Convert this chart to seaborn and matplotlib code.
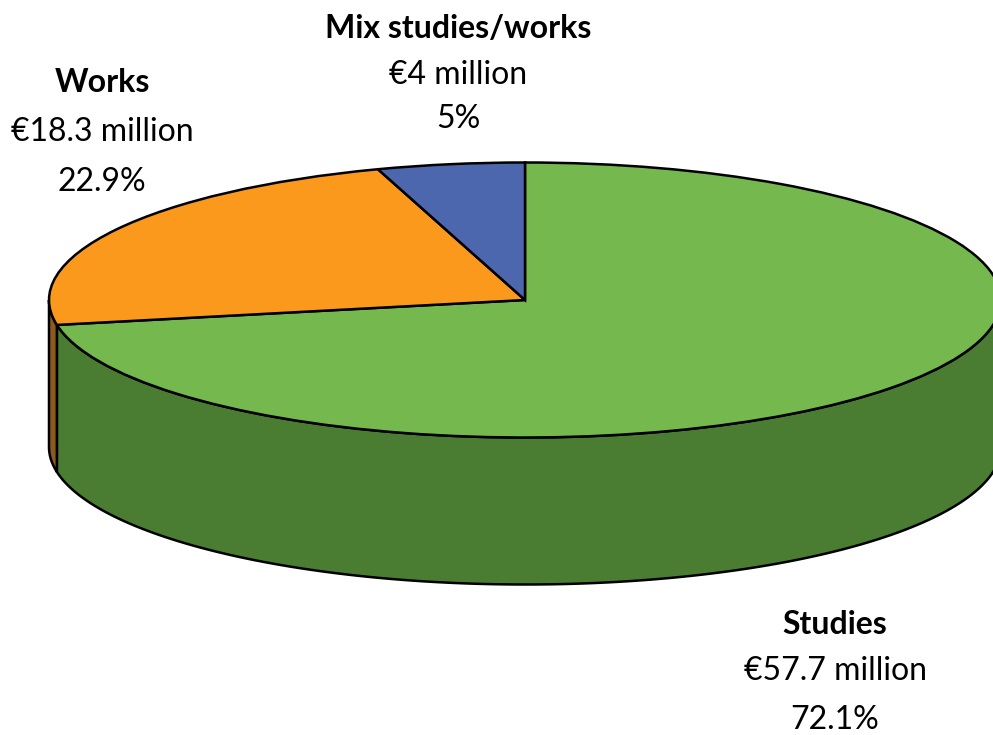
import matplotlib
matplotlib.use("Agg")
import matplotlib.pyplot as plt
import numpy as np
import seaborn as sns

names = ["Studies", "Works", "Mix studies/works"]
amounts = ["€57.7 million", "€18.3 million", "€4 million"]
shares = [72.1, 22.9, 5.0]
share_labels = ["72.1%", "22.9%", "5%"]
top_colors = ["#74b84e", "#fb991c", "#4c67ae"]
side_colors = ["#4a7c32", "#8a5a1f", "#33467a"]

W, H = 993, 735
CX, CY, RX, RY, DEPTH = 525, 300, 476, 137.5, 147

sns.set_theme(style="white")
plt.rcParams["font.family"] = ["Lato", "DejaVu Sans"]

fig = plt.figure(figsize=(W / 100, H / 100), dpi=100)
ax = fig.add_axes([0, 0, 1, 1])

ax.pie(shares, colors=top_colors, startangle=90, counterclock=False, radius=1,
       wedgeprops={"edgecolor": "black", "linewidth": 1.8, "zorder": 3})
ax.set_aspect("auto")
ax.set_xlim(-CX / RX, (W - CX) / RX)
ax.set_ylim((CY - H) / RY, CY / RY)

# side wall, only the front half of the ellipse shows
drop = DEPTH / RY
edges = np.concatenate([[0], np.cumsum(shares)]) / sum(shares) * 360
for i in range(len(shares)):
    a0 = max(edges[i], 90)
    a1 = min(edges[i + 1], 270)
    if a1 <= a0:
        continue
    t = np.radians(np.linspace(a0, a1, 200))
    x = np.sin(t)
    y = np.cos(t)
    ax.fill(np.r_[x, x[::-1]], np.r_[y, y[::-1] - drop], facecolor=side_colors[i],
            edgecolor="black", linewidth=1.8, zorder=2)

# pixel rows of the three text lines of each label
label_x = [835, 102, 458]
label_rows = [(625, 671, 720), (82, 132, 182), (29, 75, 119)]
for i in range(len(names)):
    lines = [names[i], amounts[i], share_labels[i]]
    for j in range(3):
        fig.text(label_x[i] / W, 1 - label_rows[i][j] / H, lines[j], ha="center", va="center",
                 fontsize=23, color="black", fontweight="bold" if j == 0 else "normal")

fig.savefig("out.png", dpi=100)
